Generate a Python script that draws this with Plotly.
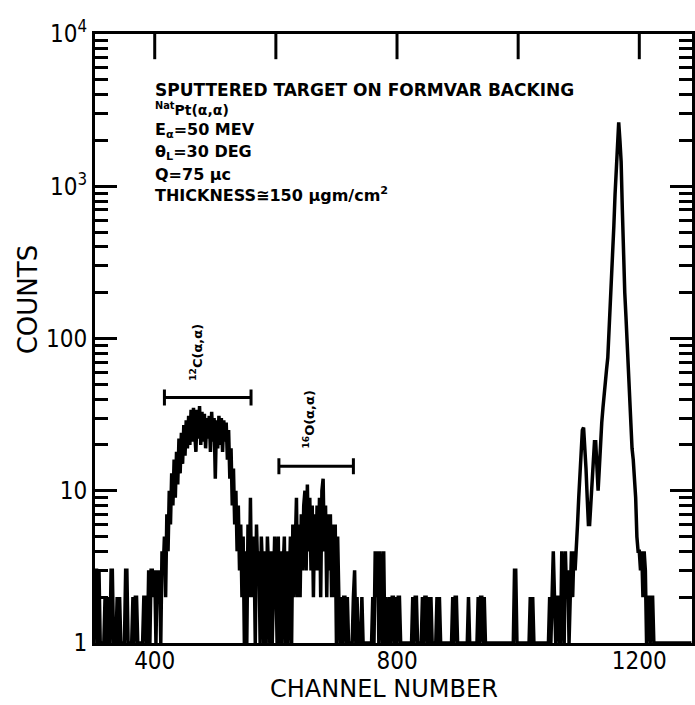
import plotly.graph_objects as go

# ---------------- data ----------------
CH_START = 300      # first channel
CH_STEP = 2         # channels per point

# counts, channels 300-398
COUNTS_LOW = [
    1, 3, 3, 1, 3, 1, 1, 1, 1, 2,   # 300
    1, 2, 1, 1, 3, 3, 1, 1, 1, 2,   # 320
    1, 2, 1, 1, 1, 1, 3, 3, 1, 1,   # 340
    1, 1, 2, 1, 2, 2, 1, 1, 1, 1,   # 360
    1, 2, 2, 1, 1, 3, 1, 3, 3, 2,   # 380
]
# channels 400-598 (12C peak)
COUNTS_C = [
    3, 1, 3, 2, 3, 1, 4, 3, 5, 2,            # 400
    7, 4, 10, 6, 13, 8, 16, 9, 18, 11,       # 420
    22, 13, 24, 15, 27, 17, 29, 19, 31, 20,  # 440
    34, 21, 35, 24, 18, 34, 22, 36, 20, 33,  # 460
    21, 32, 19, 30, 22, 31, 18, 33, 21, 30,  # 480
    12, 29, 19, 31, 20, 30, 18, 29, 21, 28,  # 500
    16, 25, 12, 19, 8, 14, 6, 10, 4, 8,      # 520
    3, 6, 2, 5, 1, 4, 1, 6, 2, 9,            # 540
    2, 5, 4, 1, 6, 3, 4, 1, 5, 3,            # 560
    1, 4, 1, 5, 3, 1, 4, 1, 3, 5,            # 580
]
# channels 600-798 (16O peak)
COUNTS_O = [
    3, 1, 5, 1, 4, 1, 3, 5, 1, 4,      # 600
    1, 3, 5, 1, 6, 2, 5, 9, 2, 6,      # 620
    2, 7, 3, 8, 10, 3, 11, 4, 9, 3,    # 640
    8, 2, 7, 3, 8, 3, 9, 2, 10, 12,    # 660
    4, 8, 2, 7, 3, 7, 2, 6, 2, 6,      # 680
    1, 5, 2, 1, 2, 1, 2, 2, 1, 2,      # 700
    1, 1, 1, 1, 2, 3, 1, 2, 1, 1,      # 720
    1, 2, 1, 1, 1, 1, 1, 1, 1, 1,      # 740
    2, 1, 4, 2, 4, 1, 4, 2, 1, 4,      # 760
    1, 2, 1, 1, 2, 1, 2, 2, 1, 2,      # 780
]
# channels 800-1098
COUNTS_MID = [
    1, 2, 2, 1, 1, 1, 1, 1, 1, 1,   # 800
    1, 1, 1, 2, 1, 2, 2, 1, 1, 1,   # 820
    1, 2, 1, 2, 2, 1, 2, 1, 2, 1,   # 840
    1, 1, 1, 2, 1, 2, 1, 1, 1, 1,   # 860
    1, 1, 1, 1, 1, 1, 2, 1, 2, 2,   # 880
    1, 1, 1, 1, 1, 1, 1, 1, 1, 2,   # 900
    1, 1, 1, 1, 1, 1, 1, 2, 1, 2,   # 920
    2, 1, 2, 1, 1, 1, 1, 1, 1, 1,   # 940
    1, 1, 1, 1, 1, 1, 1, 1, 1, 1,   # 960
    1, 1, 1, 1, 1, 1, 1, 3, 3, 1,   # 980
    1, 1, 1, 1, 1, 1, 1, 1, 1, 1,   # 1000
    2, 1, 2, 1, 1, 1, 1, 1, 1, 1,   # 1020
    1, 1, 1, 1, 1, 1, 2, 1, 2, 4,   # 1040
    2, 1, 2, 2, 1, 1, 4, 2, 1, 4,   # 1060
    2, 3, 1, 2, 4, 2, 4, 3, 4, 6,   # 1080
]
# channels 1100-1286 (Pt peak)
COUNTS_PT = [
    9, 13, 18, 25, 26, 20, 14, 9, 6, 6,                 # 1100
    8, 11, 17, 21, 21, 12, 10, 14, 22, 28,              # 1120
    35, 45, 54, 63, 75, 107, 150, 215, 340, 550,        # 1140
    890, 1410, 2000, 2630, 2000, 1450, 700, 340, 200, 138,  # 1160
    89, 60, 42, 28, 19, 16, 12, 9, 5, 4,                # 1180
    4, 3, 4, 2, 4, 3, 1, 2, 2, 1,                       # 1200
    2, 2, 1, 1, 1, 1, 1, 1, 1, 1,                       # 1220
    1, 1, 1, 1, 1, 1, 1, 1, 1, 1,                       # 1240
    1, 1, 1, 1, 1, 1, 1, 1, 1, 1,                       # 1260
    1, 1, 1, 1,                                         # 1280
]

X_TICKS = [400, 800, 1200]
X_TOP_TICKS = [400, 600, 800, 1000, 1200]
Y_TICKS = [1, 10, 100, 1000, 10000]
Y_TICK_TEXT = ["1", "10", "100", "10<sup>3</sup>", "10<sup>4</sup>"]

# brackets: (first channel, last channel, counts level)
C_BRACKET = (416, 559, 41)
O_BRACKET = (605, 728, 14.5)

# ---------------- figure ----------------
counts = COUNTS_LOW + COUNTS_C + COUNTS_O + COUNTS_MID + COUNTS_PT
channels = [CH_START + CH_STEP * i for i in range(len(counts))]

X_RANGE = [301.4, 1287.0]

fig = go.Figure()
fig.add_trace(go.Scatter(x=channels, y=counts, mode="lines",
                         line=dict(color="black", width=3.5),
                         hoverinfo="skip", showlegend=False))

for (a, b, lev) in (C_BRACKET, O_BRACKET):
    fig.add_trace(go.Scatter(
        x=[(a + b) / 2], y=[lev], mode="markers",
        marker=dict(size=1, color="black", opacity=0),
        error_x=dict(type="data", symmetric=True, array=[(b - a) / 2],
                     color="black", thickness=3, width=8),
        showlegend=False, hoverinfo="skip"))

# top-axis tick marks: vertical line markers sitting on the top frame,
# the half outside the plot area is clipped away
fig.add_trace(go.Scatter(
    x=X_TOP_TICKS, y=[Y_TICKS[-1]] * len(X_TOP_TICKS), mode="markers",
    marker=dict(symbol="line-ns", size=36, color="black",
                line=dict(color="black", width=3)),
    cliponaxis=True, showlegend=False, hoverinfo="skip"))

minor_vals = [m * 10 ** d for d in range(4) for m in (2, 3, 4, 5, 6, 7, 8, 9)]

TICKFONT = dict(family="DejaVu Sans Condensed, DejaVu Sans", size=24, color="black")

fig.update_layout(
    width=695, height=705,
    margin=dict(l=95, r=0, t=34, b=62),
    paper_bgcolor="white", plot_bgcolor="white",
    showlegend=False,
    xaxis=dict(range=X_RANGE, autorange=False, showgrid=False, zeroline=False,
               showline=True, linecolor="black", linewidth=3,
               mirror=True, tickmode="array", tickvals=X_TICKS,
               ticks="", tickfont=TICKFONT, ticklabelstandoff=-6),
    yaxis=dict(type="log", range=[0, 4], showgrid=False, zeroline=False,
               showline=True, linecolor="black", linewidth=3,
               mirror="ticks",
               tickvals=Y_TICKS, ticktext=Y_TICK_TEXT,
               ticks="inside", ticklen=22, tickwidth=3, tickcolor="black",
               tickfont=dict(family="DejaVu Sans Condensed, DejaVu Sans",
                             size=24, color="black"),
               minor=dict(tickvals=minor_vals, ticks="inside", ticklen=13,
                          tickwidth=2.5, tickcolor="black", showgrid=False)),
)

lines = [
    ("<b>SPUTTERED TARGET ON FORMVAR BACKING</b>", 90, 17),
    ("<b><sup>Nat</sup>Pt(α,α)</b>", 109, 14),
    ("<b>E<sub>α</sub>=50 MEV</b>", 130, 16),
    ("<b>θ<sub>L</sub>=30 DEG</b>", 152, 16),
    ("<b>Q=75 μc</b>", 174, 16),
    ("<b>THICKNESS≅150 μgm/cm<sup>2</sup></b>", 194, 16),
]
for text, ypx, fs in lines:
    fig.add_annotation(text=text, xref="paper", yref="paper",
                       x=(153 - 95) / 600, y=(643 - ypx) / 609,
                       xanchor="left", yanchor="middle", showarrow=False,
                       font=dict(family="DejaVu Sans", size=fs, color="black"))

fig.add_annotation(text="<b><sup>12</sup>C(α,α)</b>", x=469, y=1.91,
                   xref="x", yref="y", textangle=-90, showarrow=False,
                   font=dict(family="DejaVu Sans", size=13, color="black"))
fig.add_annotation(text="<b><sup>16</sup>O(α,α)</b>", x=654, y=1.465,
                   xref="x", yref="y", textangle=-90, showarrow=False,
                   font=dict(family="DejaVu Sans", size=13, color="black"))

fig.add_annotation(text="CHANNEL NUMBER", xref="paper", yref="paper",
                   x=(385 - 95) / 600, y=(643 - 705) / 609,
                   xanchor="center", yanchor="bottom", showarrow=False,
                   font=dict(family="DejaVu Sans", size=24, color="black"))
fig.add_annotation(text="COUNTS", xref="paper", yref="paper",
                   x=(28 - 95) / 600, y=(643 - 300) / 609, textangle=-90,
                   xanchor="center", yanchor="middle", showarrow=False,
                   font=dict(family="DejaVu Sans", size=26, color="black"))

fig.write_html("out.html")
